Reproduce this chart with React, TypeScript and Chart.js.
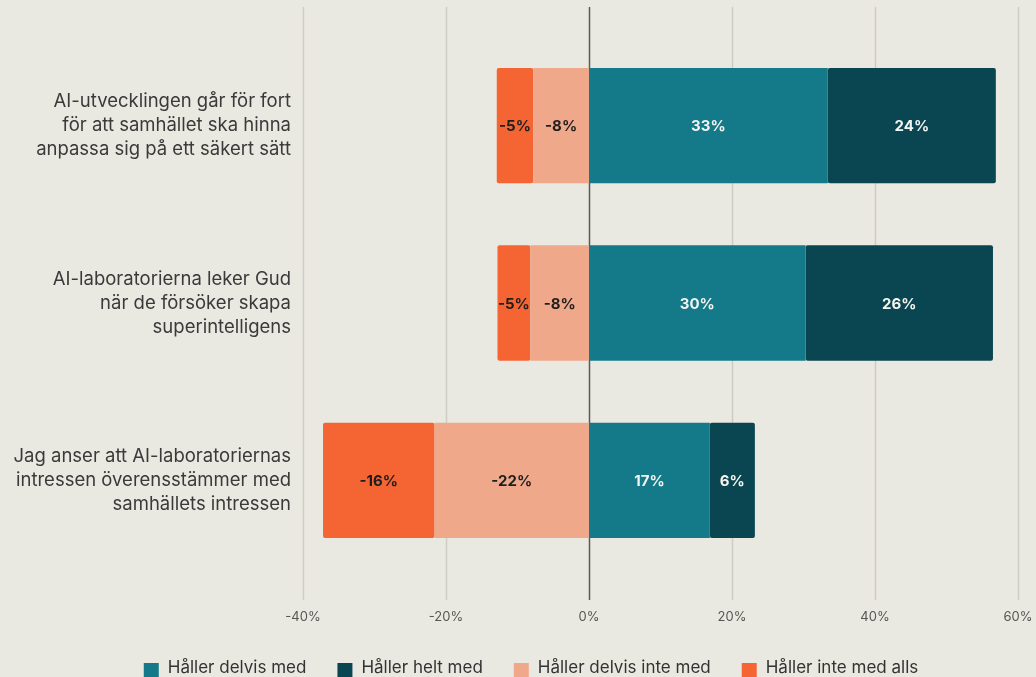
import React, { useEffect, useRef } from "react";
import { Chart, registerables } from "chart.js";

Chart.register(...registerables);

const categories: string[][] = [
  ["AI-utvecklingen går för fort", "för att samhället ska hinna", "anpassa sig på ett säkert sätt"],
  ["AI-laboratorierna leker Gud", "när de försöker skapa", "superintelligens"],
  ["Jag anser att AI-laboratoriernas", "intressen överensstämmer med", "samhällets intressen"],
];

const seriesNames = ["Håller delvis med", "Håller helt med", "Håller delvis inte med", "Håller inte med alls"];
const delvisMed = [33.4, 30.3, 16.9];
const heltMed = [23.5, 26.2, 6.3];
const delvisInteMed = [-7.8, -8.2, -21.6];
const inteMedAlls = [-5.1, -4.6, -15.6];

const xTicks = [-40, -20, 0, 20, 40, 60];

const colors = ["#147A89", "#0A4651", "#F0A88B", "#F56533"];
const labelColors = ["#F4F4F0", "#F4F4F0", "#1E1E1E", "#1E1E1E"];
const FONT = "Inter, 'Noto Sans', sans-serif";
const BG = "#EAE9E1";

const gridPlugin = {
  id: "customGrid",
  beforeDatasetsDraw(chart: any) {
    const { ctx } = chart;
    const xs = chart.scales.x;
    ctx.save();
    xTicks.forEach((t) => {
      const px = Math.round(xs.getPixelForValue(t)) + 0.5;
      ctx.beginPath();
      ctx.strokeStyle = t === 0 ? "#5A5A58" : "#CDCCC4";
      ctx.lineWidth = 1.5;
      ctx.moveTo(px, 7);
      ctx.lineTo(px, 600);
      ctx.stroke();
    });
    ctx.restore();
  },
};

const valueLabelPlugin = {
  id: "valueLabels",
  afterDatasetsDraw(chart: any) {
    const { ctx } = chart;
    ctx.save();
    ctx.font = `bold 15px ${FONT}`;
    ctx.textAlign = "center";
    ctx.textBaseline = "middle";
    chart.data.datasets.forEach((ds: any, di: number) => {
      const meta = chart.getDatasetMeta(di);
      meta.data.forEach((el: any, i: number) => {
        const v = ds.data[i];
        const cx = (el.x + el.base) / 2;
        ctx.fillStyle = labelColors[di];
        ctx.fillText(`${Math.round(v)}%`, cx, el.y + 1);
      });
    });
    ctx.restore();
  },
};

const legendPlugin = {
  id: "customLegend",
  afterDraw(chart: any) {
    const { ctx } = chart;
    ctx.save();
    ctx.font = `17px ${FONT}`;
    ctx.textBaseline = "middle";
    ctx.textAlign = "left";
    const box = 15;
    const gapText = 9;
    const gapItem = 31;
    const widths = seriesNames.map((n) => box + gapText + ctx.measureText(n).width);
    const total = widths.reduce((a, b) => a + b, 0) + gapItem * (seriesNames.length - 1);
    let x = 531 - total / 2;
    const cy = 668;
    seriesNames.forEach((n, i) => {
      ctx.fillStyle = colors[i];
      ctx.fillRect(x, 663, box, box);
      ctx.fillStyle = "#333333";
      ctx.fillText(n, x + box + gapText, cy);
      x += widths[i] + gapItem;
    });
    ctx.restore();
  },
};

const bgPlugin = {
  id: "bg",
  beforeDraw(chart: any) {
    const { ctx, width, height } = chart;
    ctx.save();
    ctx.fillStyle = BG;
    ctx.fillRect(0, 0, width, height);
    ctx.restore();
  },
};

export default function App() {
  const ref = useRef<HTMLCanvasElement>(null);
  useEffect(() => {
    if (!ref.current) return;
    const seriesData = [delvisMed, heltMed, delvisInteMed, inteMedAlls];
    const chart = new Chart(ref.current, {
      type: "bar",
      data: {
        labels: categories,
        datasets: seriesNames.map((name, i) => ({
          label: name,
          data: seriesData[i],
          backgroundColor: colors[i],
          borderRadius: 2,
          borderSkipped: false,
          barPercentage: 0.65,
          categoryPercentage: 1,
        })),
      },
      options: {
        indexAxis: "y",
        responsive: false,
        animation: false,
        layout: { padding: { top: 37, right: 18, bottom: 0, left: 0 } },
        plugins: {
          legend: { display: false },
          tooltip: { enabled: false },
        },
        scales: {
          x: {
            stacked: true,
            min: -40,
            max: 60,
            afterBuildTicks(scale: any) {
              scale.ticks = xTicks.map((v) => ({ value: v }));
            },
            afterFit(scale: any) {
              scale.height = 108;
              scale.paddingLeft = 0;
              scale.paddingRight = 0;
            },
            grid: { display: false, drawTicks: false },
            border: { display: false },
            ticks: {
              padding: 40,
              color: "#555555",
              font: { family: FONT, size: 13 },
              callback: (v: any) => `${v}%`,
            },
          },
          y: {
            stacked: true,
            afterFit(scale: any) {
              scale.width = 303;
              scale.paddingTop = 0;
              scale.paddingBottom = 0;
            },
            grid: { display: false, drawTicks: false },
            border: { display: false },
            ticks: {
              padding: 12,
              color: "#3A3A3A",
              font: { family: FONT, size: 18.5, lineHeight: "24px" },
            },
          },
        },
      },
      plugins: [bgPlugin, gridPlugin, valueLabelPlugin, legendPlugin],
    } as any);
    return () => chart.destroy();
  }, []);
  return (
    <div style={{ position: "fixed", left: 0, top: 0, width: 1036, height: 677, background: BG }}>
      <canvas ref={ref} width={1036} height={677} />
    </div>
  );
}
